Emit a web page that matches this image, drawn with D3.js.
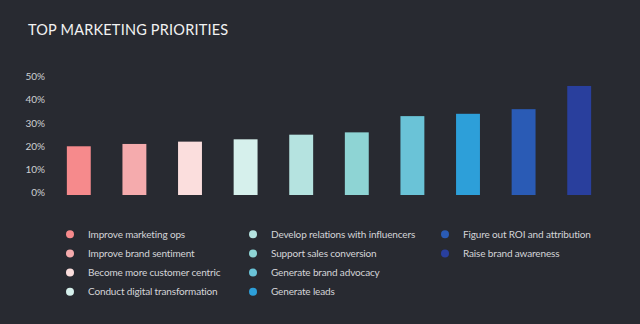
<!DOCTYPE html>
<html>
<head>
<meta charset="utf-8">
<script src="https://cdn.jsdelivr.net/npm/d3@7"></script>
<style>
  html, body { margin: 0; padding: 0; background: #282a31; }
  svg { display: block; }
</style>
</head>
<body>
<script>
var width = 640;
var height = 324;

var priorities = [
  'Improve marketing ops',
  'Improve brand sentiment',
  'Become more customer centric',
  'Conduct digital transformation',
  'Develop relations with influencers',
  'Support sales conversion',
  'Generate brand advocacy',
  'Generate leads',
  'Figure out ROI and attribution',
  'Raise brand awareness'
];
var shares = [21, 22, 23, 24, 26, 27, 34, 35, 37, 47];
var barColors = ['#f68a8c', '#f5abad', '#fbdedd', '#d6f0ec', '#b5e3e0', '#8ed4d4',
                 '#6ac3d7', '#2d9fd9', '#2a5bb5', '#293f9d'];
var yTicks = [0, 10, 20, 30, 40, 50];

var svg = d3.select('body').append('svg')
  .attr('width', width)
  .attr('height', height);

svg.append('rect')
  .attr('width', width)
  .attr('height', height)
  .attr('fill', '#282a31');

svg.append('text')
  .attr('x', 28)
  .attr('y', 34.5)
  .attr('fill', '#f2f2f2')
  .style('font-family', 'Lato, sans-serif')
  .style('font-size', '14.5px')
  .style('letter-spacing', '0.2px')
  .text('TOP MARKETING PRIORITIES');

var x = d3.scaleBand()
  .domain(priorities)
  .range([50, 608])
  .paddingInner(0.57)
  .paddingOuter(0.303);

var y = d3.scaleLinear()
  .domain([0, 50])
  .range([195, 79]);

var yAxis = d3.axisLeft(y)
  .tickValues(yTicks)
  .tickSize(0)
  .tickPadding(0)
  .tickFormat(d => d + '%');

var yAxisG = svg.append('g')
  .attr('transform', 'translate(45,-2.5)')
  .call(yAxis);
yAxisG.select('.domain').remove();
yAxisG.selectAll('text')
  .attr('fill', '#cfd0d3')
  .style('font-family', 'Lato, sans-serif')
  .style('font-size', '10px');

svg.selectAll('.bar')
  .data(shares)
  .enter()
  .append('rect')
  .attr('class', 'bar')
  .attr('x', (d, i) => x(priorities[i]))
  .attr('y', d => y(d))
  .attr('width', x.bandwidth())
  .attr('height', d => y(0) - y(d))
  .attr('fill', (d, i) => barColors[i]);

// legend: 4 rows per column
var colX = [70, 253, 445];
var rowY = d3.scalePoint().domain([0, 1, 2, 3]).range([234.3, 291.7]);

var legendG = svg.selectAll('.legendItem')
  .data(priorities)
  .enter()
  .append('g')
  .attr('class', 'legendItem')
  .attr('transform', (d, i) => 'translate(' + colX[Math.floor(i / 4)] + ',' + rowY(i % 4) + ')');

legendG.append('circle')
  .attr('r', 4)
  .attr('fill', (d, i) => barColors[i]);

legendG.append('text')
  .attr('x', 18)
  .attr('y', 0)
  .attr('dy', '0.35em')
  .attr('fill', '#d4d5d8')
  .style('font-family', 'Lato, sans-serif')
  .style('font-size', '10px')
  .style('letter-spacing', '-0.15px')
  .text(d => d);
</script>
</body>
</html>
